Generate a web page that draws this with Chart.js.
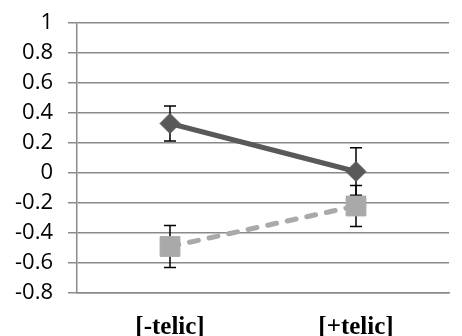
<!DOCTYPE html>
<html>
<head>
<meta charset="utf-8">
<script src="https://cdn.jsdelivr.net/npm/chart.js@4/dist/chart.umd.min.js"></script>
<style>
  html, body { margin: 0; padding: 0; background: #fff; overflow: hidden; }
  #wrap { width: 462px; height: 336px; overflow: hidden; }
  canvas { display: block; }
</style>
</head>
<body>
<div id="wrap"><canvas id="c" width="464" height="336"></canvas></div>
<script>
// Conditions on the horizontal axis
const categories = ['[-telic]', '[+telic]'];

// Series 1: dark solid line with diamonds
const seriesDark = [0.33, 0.01];
const errorDark = [0.117, 0.158];

// Series 2: light dashed line with squares
const seriesLight = [-0.49, -0.22];
const errorLight = [0.14, 0.136];

// Value axis range and step
const yMin = -0.8;
const yMax = 1;
const yStep = 0.2;

const darkColor = '#595959';
const lightColor = '#a9a9a9';
const gridColor = '#8a8a8a';

// Draws symmetric error bars with caps beneath the markers
const errorBars = {
  id: 'errorBars',
  beforeDatasetsDraw(chart) {
    const ctx = chart.ctx;
    const yScale = chart.scales.y;
    ctx.save();
    ctx.strokeStyle = '#000';
    ctx.lineWidth = 1.5;
    chart.data.datasets.forEach((ds, di) => {
      const meta = chart.getDatasetMeta(di);
      meta.data.forEach((pt, i) => {
        const v = ds.data[i];
        const e = ds.errors[i];
        const x = pt.x;
        const yTop = yScale.getPixelForValue(v + e);
        const yBot = yScale.getPixelForValue(v - e);
        const cap = 6;
        ctx.beginPath();
        ctx.moveTo(x, yTop);
        ctx.lineTo(x, yBot);
        ctx.moveTo(x - cap, yTop);
        ctx.lineTo(x + cap, yTop);
        ctx.moveTo(x - cap, yBot);
        ctx.lineTo(x + cap, yBot);
        ctx.stroke();
      });
    });
    ctx.restore();
  }
};

new Chart(document.getElementById('c'), {
  type: 'line',
  data: {
    labels: categories,
    datasets: [
      {
        label: 'dark',
        data: seriesDark,
        errors: errorDark,
        borderColor: darkColor,
        backgroundColor: darkColor,
        borderWidth: 5,
        pointStyle: 'rectRot',
        pointRadius: 10,
        pointBorderWidth: 1,
        pointBackgroundColor: darkColor,
        pointBorderColor: darkColor,
        tension: 0
      },
      {
        label: 'light',
        data: seriesLight,
        errors: errorLight,
        borderColor: lightColor,
        backgroundColor: lightColor,
        borderWidth: 5,
        borderDash: [9, 11],
        borderCapStyle: 'round',
        pointStyle: 'rect',
        pointRadius: 14,
        pointBorderWidth: 1,
        pointBackgroundColor: lightColor,
        pointBorderColor: lightColor,
        tension: 0
      }
    ]
  },
  options: {
    responsive: false,
    animation: false,
    layout: { padding: { top: 23, right: 0, left: 0, bottom: 0 } },
    plugins: {
      legend: { display: false },
      tooltip: { enabled: false }
    },
    scales: {
      x: {
        offset: true,
        grid: { display: false },
        border: { display: true, color: gridColor, width: 1.5 },
        ticks: {
          color: '#000',
          padding: 12,
          font: { family: '"Liberation Serif", serif', size: 25, weight: 'bold' }
        },
        afterFit(scale) { scale.height = 43; }
      },
      y: {
        min: yMin,
        max: yMax,
        grid: {
          color: gridColor,
          lineWidth: 1.5,
          tickLength: 9,
          drawTicks: true
        },
        border: { display: true, color: gridColor, width: 1.5 },
        ticks: {
          stepSize: yStep,
          autoSkip: false,
          color: '#000',
          padding: 15,
          font: { family: '"Open Sans", sans-serif', size: 22, lineHeight: 1 },
          callback: (v) => String(Math.round(v * 10) / 10)
        },
        afterFit(scale) {
          scale.width = 77;
          // the plot area spacing is set by the layout padding alone
          scale.paddingTop = 0;
          scale.paddingBottom = 0;
        }
      }
    }
  },
  plugins: [errorBars]
});
</script>
</body>
</html>
